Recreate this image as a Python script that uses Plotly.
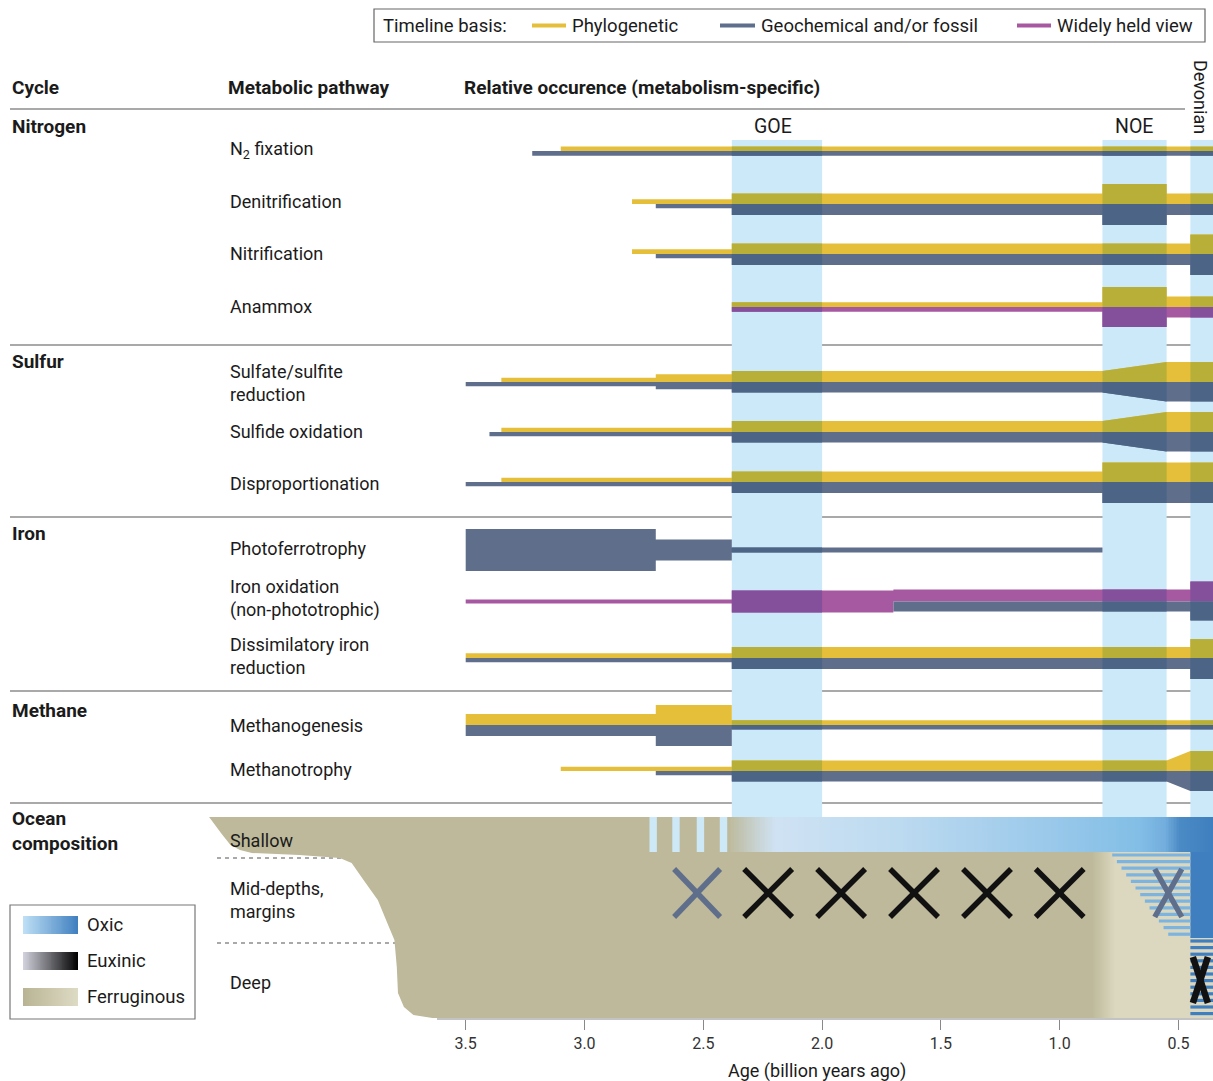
import numpy as np
import plotly.graph_objects as go

W, H = 1213, 1081          # browser window / figure size
OFF = 0                    # body margin is removed in the page (see write_html)
FW, FH = W - OFF, H - OFF
FONT = "Roboto"
INK = "#1b1b1b"

# ---------------- data ----------------
TICK_AGES = [3.5, 3.0, 2.5, 2.0, 1.5, 1.0, 0.5]
TICK_LABELS = ["3.5", "3.0", "2.5", "2.0", "1.5", "1.0", "0.5"]
PX_35, PX_PER_GA = 465.7, 237.6          # axis calibration (window pixels)


def p2a(px):
    return 3.5 - (px - PX_35) / PX_PER_GA


AGE_LEFT = p2a(OFF)
AGE_RIGHT = p2a(W)
END = AGE_RIGHT

EVENT_NAMES = ["GOE", "NOE", "Devonian"]
EVENT_START = [2.38, 0.82, 0.45]
EVENT_END = [2.00, 0.55, END]

CYCLES = ["Nitrogen", "Sulfur", "Iron", "Methane"]
PATHWAYS = ["N<sub>2</sub> fixation", "Denitrification", "Nitrification", "Anammox",
            "Sulfate/sulfite<br>reduction", "Sulfide oxidation", "Disproportionation",
            "Photoferrotrophy", "Iron oxidation<br>(non-phototrophic)",
            "Dissimilatory iron<br>reduction", "Methanogenesis", "Methanotrophy"]

# relative occurrence through time (age in Ga, occurrence in arbitrary units)
N2FIX_PHY_AGE = [3.10, END];  N2FIX_PHY_OCC = [0.42, 0.42]
N2FIX_GEO_AGE = [3.22, END];  N2FIX_GEO_OCC = [0.45, 0.45]

DENIT_PHY_AGE = [2.80, 2.38, 2.38, 0.82, 0.82, 0.55, 0.55, END]
DENIT_PHY_OCC = [0.45, 0.45, 1.00, 1.00, 1.90, 1.90, 1.00, 1.00]
DENIT_GEO_AGE = [2.70, 2.38, 2.38, 0.82, 0.82, 0.55, 0.55, END]
DENIT_GEO_OCC = [0.40, 0.40, 1.05, 1.05, 2.00, 2.00, 1.05, 1.05]

NITRI_PHY_AGE = [2.80, 2.38, 2.38, 0.45, 0.45, END]
NITRI_PHY_OCC = [0.45, 0.45, 1.00, 1.00, 1.85, 1.85]
NITRI_GEO_AGE = [2.70, 2.38, 2.38, 0.45, 0.45, END]
NITRI_GEO_OCC = [0.40, 0.40, 1.05, 1.05, 2.00, 2.00]

ANAM_PHY_AGE = [2.38, 0.82, 0.82, 0.55, 0.55, END]
ANAM_PHY_OCC = [0.45, 0.45, 1.90, 1.90, 1.00, 1.00]
ANAM_WHV_AGE = [2.38, 0.82, 0.82, 0.55, 0.55, END]
ANAM_WHV_OCC = [0.45, 0.45, 1.90, 1.90, 1.00, 1.00]

SULFATE_PHY_AGE = [3.35, 2.70, 2.70, 2.38, 2.38, 0.82, 0.55, END]
SULFATE_PHY_OCC = [0.40, 0.40, 0.75, 0.75, 1.05, 1.05, 1.90, 1.90]
SULFATE_GEO_AGE = [3.50, 2.70, 2.70, 2.38, 2.38, 0.82, 0.55, END]
SULFATE_GEO_OCC = [0.40, 0.40, 0.70, 0.70, 1.00, 1.00, 1.85, 1.85]

SULFIDE_PHY_AGE = [3.35, 2.38, 2.38, 0.82, 0.55, END]
SULFIDE_PHY_OCC = [0.40, 0.40, 1.05, 1.05, 1.90, 1.90]
SULFIDE_GEO_AGE = [3.40, 2.38, 2.38, 0.82, 0.55, END]
SULFIDE_GEO_OCC = [0.40, 0.40, 1.00, 1.00, 1.85, 1.85]

DISPRO_PHY_AGE = [3.35, 2.38, 2.38, 0.82, 0.82, END]
DISPRO_PHY_OCC = [0.40, 0.40, 1.00, 1.00, 1.85, 1.85]
DISPRO_GEO_AGE = [3.50, 2.38, 2.38, 0.82, 0.82, END]
DISPRO_GEO_OCC = [0.40, 0.40, 1.05, 1.05, 2.00, 2.00]

PHOTOFE_GEO_AGE = [3.50, 2.70, 2.70, 2.38, 2.38, 0.82]
PHOTOFE_GEO_OCC = [4.00, 4.00, 2.00, 2.00, 0.48, 0.48]

FEOX_WHV_AGE = [3.50, 2.38, 2.38, 1.70, 1.70, 0.45, 0.45, END]
FEOX_WHV_OCC = [0.40, 0.40, 2.10, 2.10, 1.15, 1.15, 1.90, 1.90]
FEOX_GEO_AGE = [1.70, 0.45, 0.45, END]
FEOX_GEO_OCC = [0.95, 0.95, 1.80, 1.80]

DIR_PHY_AGE = [3.50, 2.38, 2.38, 0.45, 0.45, END]
DIR_PHY_OCC = [0.45, 0.45, 1.05, 1.05, 1.80, 1.80]
DIR_GEO_AGE = [3.50, 2.38, 2.38, 0.45, 0.45, END]
DIR_GEO_OCC = [0.40, 0.40, 1.05, 1.05, 2.00, 2.00]

METHGEN_PHY_AGE = [3.50, 2.70, 2.70, 2.38, 2.38, END]
METHGEN_PHY_OCC = [1.05, 1.05, 1.90, 1.90, 0.45, 0.45]
METHGEN_GEO_AGE = [3.50, 2.70, 2.70, 2.38, 2.38, END]
METHGEN_GEO_OCC = [1.05, 1.05, 2.00, 2.00, 0.42, 0.42]

METHTR_PHY_AGE = [3.10, 2.38, 2.38, 0.55, 0.45, END]
METHTR_PHY_OCC = [0.40, 0.40, 1.00, 1.00, 1.90, 1.90]
METHTR_GEO_AGE = [2.70, 2.38, 2.38, 0.55, 0.45, END]
METHTR_GEO_OCC = [0.40, 0.40, 1.00, 1.00, 1.90, 1.90]

# ocean composition
FERR_EDGE_AGE = [4.58, 4.53, 4.49, 4.45, 4.40, 4.20, 4.03, 3.98, 3.93, 3.87, 3.83,
                 3.80, 3.79, 3.785, 3.76, 3.72, 3.64]
FERR_EDGE_DEPTH = [817, 833, 845, 850, 853, 855, 858, 863, 880, 900, 923,
                   940, 967, 993, 1007, 1015, 1018]
OXIC_WHIFF_AGE = [2.711, 2.615, 2.512, 2.415]
OXIC_SHALLOW_AGE = [2.396, 2.198, 1.672, 1.125, 0.662, 0.556, 0.493, END]
OXIC_MID_ONSET_AGE = [0.788, 0.532]     # sloped onset of oxic mid-depths
DEEP_FADE_AGE = [0.863, 0.766, END]
EUX_AGE = [2.526, 2.227, 1.920, 1.613, 1.306, 1.000, 0.543, 0.408]
EUX_ZONE = ["mid", "mid", "mid", "mid", "mid", "mid", "mid", "deep"]
EUX_CERTAIN = [False, True, True, True, True, True, False, True]

# ---------------- styles ----------------
YEL = (230, 191, 58)
GEO = (95, 110, 139)
WHV = (166, 88, 160)
BAND = (203, 233, 248)
KIND_COLOR = {"phy": YEL, "geo": GEO, "whv": WHV}
TAN = "#bdb99a"
BEIGE = "#dcd8c0"
OXIC_SHALLOW_COLOR = ["#bdb99a", "#cfe2f3", "#bcdaf0", "#9fcbeb", "#82bee6",
                      "#72addd", "#4a8ac4", "#3f7fbf"]
DEEP_FADE_COLOR = [TAN, BEIGE, BEIGE]
OXIC_DARK = "#3f7fbf"
STRIPE_LIGHT = "#7db4df"
S = 10.5  # px per occurrence unit

FS, FS_BOLD, FS_LEG = 18, 19, 18.5

ROW_CENTER_Y = [151, 204, 254, 307, 382, 432, 482, 550, 601.5, 658, 725, 771]
LABEL_Y = [150, 201, 253, 306, 383, 431, 483, 548, 598, 656, 725, 769]
CYCLE_LABEL_Y = [127, 361, 533, 710]
SECTION_LINE_Y = [345, 517, 691, 803]
BAND_TOP, OCEAN_TOP, SHALLOW_BOT, MID_BOT, OCEAN_BOT = 140, 817, 852, 938, 1018


def rgb(c):
    return "rgb(%d,%d,%d)" % c


def mult(c, b=BAND):
    return tuple(round(x * y / 255) for x, y in zip(c, b))


def ga(px):
    return px / PX_PER_GA


def xp(px):
    return (px - OFF) / FW


def yp(py):
    return 1 - (py - OFF) / FH


fig = go.Figure()
shapes = []
annotations = []


def ann(text, px, py, size=FS, bold=False, xanchor="left", angle=0, color=INK):
    annotations.append(dict(text=("<b>%s</b>" % text) if bold else text,
                            x=xp(px), y=yp(py), xref="paper", yref="paper",
                            xanchor=xanchor, yanchor="middle", showarrow=False,
                            textangle=angle, align="left",
                            font=dict(family=FONT, size=size, color=color)))


def pline(x0, y0, x1, y1, color="#666", width=1.2, dash=None):
    shapes.append(dict(type="line", xref="paper", yref="paper", x0=xp(x0), x1=xp(x1),
                       y0=yp(y0), y1=yp(y1), layer="below",
                       line=dict(color=color, width=width, dash=dash)))


def poly(xs, ys, color):
    fig.add_trace(go.Scatter(x=xs, y=ys, fill="toself", fillcolor=color, mode="lines",
                             line=dict(width=0, color=color), hoverinfo="skip",
                             showlegend=False))


# event bands
for s, e in zip(EVENT_START, EVENT_END):
    shapes.append(dict(type="rect", xref="x", yref="y", x0=s, x1=e, y0=BAND_TOP, y1=OCEAN_TOP,
                       fillcolor=rgb(BAND), line=dict(width=0), layer="below"))

# separator lines
pline(10, 109, 1185, 109, color="#555")
for y in SECTION_LINE_Y:
    pline(10, y, 1210, y, color="#555")


# ---------------- metabolic bars ----------------
def edges(ages, occ, c, side, partner_start, center_alone):
    top, bot = [], []
    for i, (a, o) in enumerate(zip(ages, occ)):
        h = o * S
        alone = partner_start is None or a > partner_start or (
            a == partner_start and not (i > 0 and ages[i - 1] == a))
        if center_alone and alone:
            top.append(c - h / 2); bot.append(c + h / 2)
        elif side == "top":
            top.append(c - h); bot.append(c)
        else:
            top.append(c); bot.append(c + h)
    return top, bot


def clip(ages, top, bot, hi, lo):
    pts = []
    n = len(ages)
    for i in range(n):
        a = ages[i]
        if lo - 1e-9 <= a <= hi + 1e-9:
            pts.append((a, top[i], bot[i]))
        if i < n - 1:
            a2 = ages[i + 1]
            for b in (hi, lo):
                if (a - b) * (a2 - b) < -1e-12:
                    t = (a - b) / (a - a2)
                    pts.append((b, top[i] + t * (top[i + 1] - top[i]),
                                bot[i] + t * (bot[i + 1] - bot[i])))
    return pts


def draw_series(ages, occ, kind, c, side, partner_start, center_alone):
    top, bot = edges(ages, occ, c, side, partner_start, center_alone)
    col = KIND_COLOR[kind]
    poly(list(ages) + list(ages[::-1]), top + bot[::-1], rgb(col))
    for s, e in zip(EVENT_START, EVENT_END):
        pts = clip(ages, top, bot, s, e)
        if len(pts) >= 2:
            xs = [p[0] for p in pts]
            poly(xs + xs[::-1], [p[1] for p in pts] + [p[2] for p in pts][::-1], rgb(mult(col)))


ROWS = [
    (N2FIX_PHY_AGE, N2FIX_PHY_OCC, "phy", N2FIX_GEO_AGE, N2FIX_GEO_OCC, "geo", False),
    (DENIT_PHY_AGE, DENIT_PHY_OCC, "phy", DENIT_GEO_AGE, DENIT_GEO_OCC, "geo", False),
    (NITRI_PHY_AGE, NITRI_PHY_OCC, "phy", NITRI_GEO_AGE, NITRI_GEO_OCC, "geo", False),
    (ANAM_PHY_AGE, ANAM_PHY_OCC, "phy", ANAM_WHV_AGE, ANAM_WHV_OCC, "whv", False),
    (SULFATE_PHY_AGE, SULFATE_PHY_OCC, "phy", SULFATE_GEO_AGE, SULFATE_GEO_OCC, "geo", False),
    (SULFIDE_PHY_AGE, SULFIDE_PHY_OCC, "phy", SULFIDE_GEO_AGE, SULFIDE_GEO_OCC, "geo", False),
    (DISPRO_PHY_AGE, DISPRO_PHY_OCC, "phy", DISPRO_GEO_AGE, DISPRO_GEO_OCC, "geo", False),
    (None, None, None, PHOTOFE_GEO_AGE, PHOTOFE_GEO_OCC, "geo", True),
    (FEOX_WHV_AGE, FEOX_WHV_OCC, "whv", FEOX_GEO_AGE, FEOX_GEO_OCC, "geo", True),
    (DIR_PHY_AGE, DIR_PHY_OCC, "phy", DIR_GEO_AGE, DIR_GEO_OCC, "geo", False),
    (METHGEN_PHY_AGE, METHGEN_PHY_OCC, "phy", METHGEN_GEO_AGE, METHGEN_GEO_OCC, "geo", False),
    (METHTR_PHY_AGE, METHTR_PHY_OCC, "phy", METHTR_GEO_AGE, METHTR_GEO_OCC, "geo", False),
]

for r, (ta, to, tk, ba, bo, bk, ca) in enumerate(ROWS):
    c = ROW_CENTER_Y[r]
    if ta is not None:
        draw_series(ta, to, tk, c, "top", ba[0] if ba else None, ca)
    if ba is not None:
        draw_series(ba, bo, bk, c, "bottom", ta[0] if ta else None, ca)

# ---------------- ocean composition ----------------
path = "M " + " L ".join("%.4f,%.1f" % (a, d) for a, d in zip(FERR_EDGE_AGE, FERR_EDGE_DEPTH))
path += " L %.4f,%d L %.4f,%d Z" % (END, OCEAN_BOT, END, OCEAN_TOP)
shapes.append(dict(type="path", xref="x", yref="y", path=path, fillcolor=TAN,
                   line=dict(width=0), layer="below"))
for a in OXIC_WHIFF_AGE:
    shapes.append(dict(type="rect", xref="x", yref="y", x0=a + ga(3.7), x1=a - ga(3.7),
                       y0=OCEAN_TOP, y1=SHALLOW_BOT, fillcolor="#cde8f7",
                       line=dict(width=0), layer="below"))


def gradient(age_stops, colors, y0, y1, n=300):
    a0, a1 = age_stops[0], age_stops[-1]
    ex = np.linspace(a1, a0, n + 1)
    cx = (ex[:-1] + ex[1:]) / 2
    t = (a0 - cx) / (a0 - a1)
    scale = [[min(1.0, max(0.0, (a0 - a) / (a0 - a1))), col] for a, col in zip(age_stops, colors)]
    scale[0][0] = 0.0
    scale[-1][0] = 1.0
    fig.add_trace(go.Heatmap(x=ex, y=[y0, y1], z=[t], zmin=0, zmax=1, colorscale=scale,
                             showscale=False, hoverinfo="skip", zsmooth=False))


gradient(OXIC_SHALLOW_AGE, OXIC_SHALLOW_COLOR, OCEAN_TOP, SHALLOW_BOT)
gradient(DEEP_FADE_AGE, DEEP_FADE_COLOR, SHALLOW_BOT, OCEAN_BOT)

# oxic mid-depths at the right edge
poly([EVENT_START[2], END, END, EVENT_START[2]], [SHALLOW_BOT, SHALLOW_BOT, MID_BOT, MID_BOT], OXIC_DARK)

# sloped striped (intermittently oxic) mid-depths
sx, sy = [], []
for k in range(13):
    y = SHALLOW_BOT + 3 + 6.6 * k
    f = (y - SHALLOW_BOT) / (MID_BOT - SHALLOW_BOT)
    left = OXIC_MID_ONSET_AGE[0] + f * (OXIC_MID_ONSET_AGE[1] - OXIC_MID_ONSET_AGE[0])
    sx += [left, EVENT_START[2], None]
    sy += [y, y, None]
fig.add_trace(go.Scatter(x=sx, y=sy, mode="lines", line=dict(color=STRIPE_LIGHT, width=3.2),
                         hoverinfo="skip", showlegend=False))
# deep striped column
dx, dy = [], []
for k in range(12):
    y = MID_BOT + 3 + 6.6 * k
    dx += [EVENT_START[2], END, None]
    dy += [y, y, None]
fig.add_trace(go.Scatter(x=dx, y=dy, mode="lines", line=dict(color=OXIC_DARK, width=3.2),
                         hoverinfo="skip", showlegend=False))

# euxinia crosses
X_WIDTH_PX = [46, 48, 48, 48, 48, 48, 27, 15]
for a, z, sure, wpx in zip(EUX_AGE, EUX_ZONE, EUX_CERTAIN, X_WIDTH_PX):
    cy = 893 if z == "mid" else 980
    hh = 24 if z == "mid" else 23
    hw = ga(wpx / 2)
    col = "#111111" if sure else "#5f6e8b"
    lw = 5.5 if z == "mid" else 6.5
    fig.add_trace(go.Scatter(x=[a + hw, a - hw, None, a + hw, a - hw],
                             y=[cy - hh, cy + hh, None, cy + hh, cy - hh],
                             mode="lines", line=dict(color=col, width=lw),
                             hoverinfo="skip", showlegend=False))

# dashed depth dividers
pline(217, 858, 441, 858, color="#555", width=1.2, dash="4px,4px")
pline(217, 943, 438, 943, color="#555", width=1.2, dash="4px,4px")
# axis baseline
pline(437, 1019, W, 1019, color="#888", width=1.2)

# ---------------- ocean legend ----------------
shapes.append(dict(type="rect", xref="paper", yref="paper", x0=xp(10), x1=xp(195),
                   y0=yp(905), y1=yp(1019), line=dict(color="#777", width=1.2),
                   fillcolor="white", layer="below"))
SWATCH_NAMES = ["Oxic", "Euxinic", "Ferruginous"]
SWATCH_COLORS = [["#bfe0f6", "#3f7fbf"], ["#d2d3dd", "#000000"], ["#b8b493", "#dedbc5"]]
for i, (nm, cols) in enumerate(zip(SWATCH_NAMES, SWATCH_COLORS)):
    yc = 925 + 36 * i
    gradient([p2a(23), p2a(78)], cols, yc - 9, yc + 9, n=60)
    ann(nm, 85, yc, size=FS_LEG)

# ---------------- top legend ----------------
shapes.append(dict(type="rect", xref="paper", yref="paper", x0=xp(374), x1=xp(1205),
                   y0=yp(9), y1=yp(42), line=dict(color="#666", width=1.2),
                   fillcolor="white", layer="below"))
ann("Timeline basis:", 381, 25.5, size=FS_LEG)
for (x0, x1, tx, col, txt) in [(532, 566, 570, YEL, "Phylogenetic"),
                               (720, 755, 759, GEO, "Geochemical and/or fossil"),
                               (1017, 1051, 1055, WHV, "Widely held view")]:
    pline(x0, 25.5, x1, 25.5, color=rgb(col), width=4)
    ann(txt, tx, 25.5, size=FS_LEG)

# ---------------- texts ----------------
ann("Cycle", 10, 87, size=FS_BOLD, bold=True)
ann("Metabolic pathway", 226, 87, size=FS_BOLD, bold=True)
ann("Relative occurence (metabolism-specific)", 462, 87, size=FS_BOLD, bold=True)
for nm, y in zip(CYCLES, CYCLE_LABEL_Y):
    ann(nm, 10, y, size=FS_BOLD, bold=True)
for nm, y in zip(PATHWAYS, LABEL_Y):
    ann(nm, 228, y)
ann("GOE", 773, 126, size=19.5, xanchor="center")
ann("NOE", 1134, 126, size=19.5, xanchor="center")
ann("Devonian", 1201, 97, xanchor="center", angle=90)
ann("Ocean<br>composition", 10, 831, size=FS_BOLD, bold=True)
ann("Shallow", 228, 840)
ann("Mid-depths,<br>margins", 228, 900)
ann("Deep", 228, 982)
ann("Age (billion years ago)", 817, 1071, xanchor="center")

# dummy trace for tick axis
fig.add_trace(go.Scatter(x=[3.5], y=[OCEAN_BOT], xaxis="x2", yaxis="y", mode="markers",
                         marker=dict(opacity=0), hoverinfo="skip", showlegend=False))

fig.update_layout(
    width=FW, height=FH, margin=dict(l=0, r=0, t=0, b=0),
    paper_bgcolor="white", plot_bgcolor="white", showlegend=False,
    xaxis=dict(range=[AGE_LEFT, AGE_RIGHT], visible=False, domain=[0, 1], fixedrange=True),
    yaxis=dict(range=[H, OFF], visible=False, domain=[0, 1], fixedrange=True),
    xaxis2=dict(overlaying="x", anchor="free", position=yp(1019),
                range=[AGE_LEFT, AGE_RIGHT], tickmode="array", tickvals=TICK_AGES,
                ticktext=TICK_LABELS, ticks="outside", ticklen=10, tickcolor="#888",
                tickwidth=1.2, showline=False, showgrid=False, zeroline=False,
                tickfont=dict(family=FONT, size=16, color="#333")),
    shapes=shapes, annotations=annotations,
)

fig.write_html("out.html", config={"displayModeBar": False},
               post_script="document.body.style.margin='0';"
                           "document.documentElement.style.overflow='hidden';")
